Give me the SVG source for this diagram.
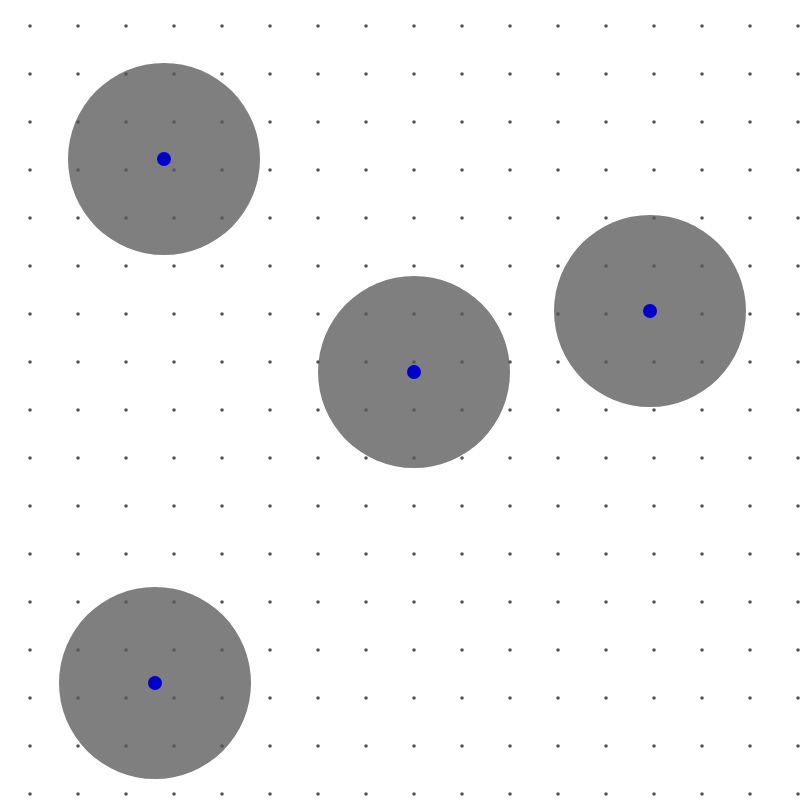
<svg xmlns="http://www.w3.org/2000/svg" width="812" height="810" viewBox="0 0 812 810">
<defs>
<style>
.disk{fill:#7f7f7f;}
.center{fill:#0000cc;}
.gd{fill:#555;}
</style>
<pattern id="grid" x="6" y="2" width="48" height="48" patternUnits="userSpaceOnUse">
<circle class="gd" cx="24" cy="24" r="1.8"/>
</pattern>
</defs>
<rect width="812" height="810" fill="#ffffff"/>
<g id="node1"><circle class="disk" cx="164" cy="159" r="96"/></g>
<g id="node2"><circle class="disk" cx="414" cy="372" r="96"/></g>
<g id="node3"><circle class="disk" cx="650" cy="311" r="96"/></g>
<g id="node4"><circle class="disk" cx="155" cy="683" r="96"/></g>
<rect id="grid-dots" width="812" height="810" fill="url(#grid)"/>
<g id="centers">
<circle class="center" cx="164" cy="159" r="7"/>
<circle class="center" cx="414" cy="372" r="7"/>
<circle class="center" cx="650" cy="311" r="7"/>
<circle class="center" cx="155" cy="683" r="7"/>
</g>
<g id="connectors"></g>
</svg>
